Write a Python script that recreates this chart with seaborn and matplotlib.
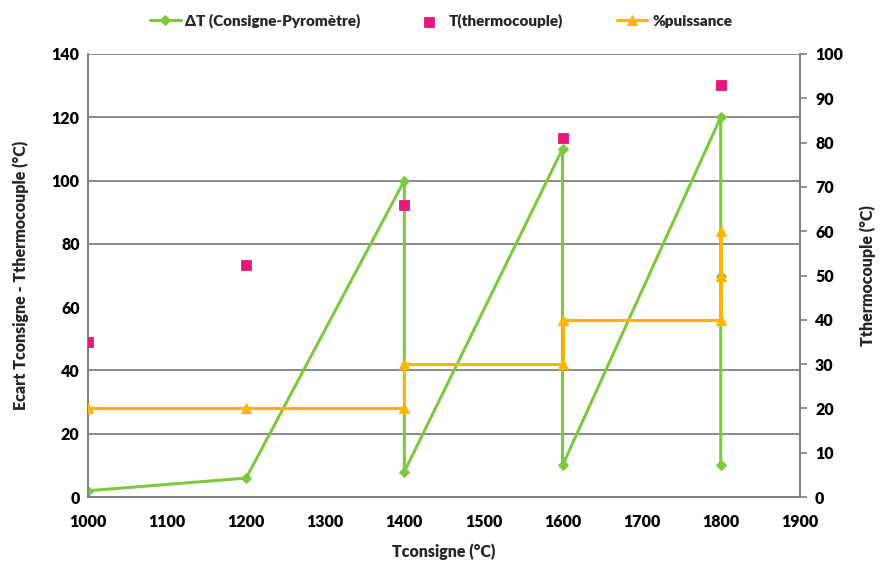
import matplotlib
matplotlib.use('Agg')
import matplotlib.pyplot as plt
import seaborn as sns
import pandas as pd

# data
dt_x = [1000, 1200, 1400, 1400, 1600, 1600, 1800, 1800, 1800]
dt_y = [2, 6, 100, 8, 110, 10, 120, 70, 10]

tc_x = [1000, 1200, 1400, 1600, 1800]
tc_y = [35, 52.4, 66, 81, 93]

pw_x = [1000, 1200, 1400, 1400, 1600, 1600, 1800, 1800, 1800]
pw_y = [20, 20, 20, 30, 30, 40, 40, 50, 60]

green = '#7CC93E'
pink = '#E8177B'
orange = '#FFB400'
grey = '#808080'

sns.set_style('white')
plt.rcParams['font.family'] = ['Lato', 'DejaVu Sans']
plt.rcParams['font.weight'] = 'bold'

df_dt = pd.DataFrame({'x': dt_x, 'y': dt_y})
df_tc = pd.DataFrame({'x': tc_x, 'y': tc_y})
df_pw = pd.DataFrame({'x': pw_x, 'y': pw_y})

fig = plt.figure(figsize=(8.82, 5.74), dpi=100)
ax = fig.add_axes([0.0998, 0.134, 0.807, 0.772])
ax2 = ax.twinx()

sns.lineplot(data=df_dt, x='x', y='y', ax=ax, sort=False, estimator=None,
             color=green, lw=2.2, marker='D', markersize=5, markeredgecolor=green,
             label='ΔT (Consigne-Pyromètre)', legend=False, zorder=3)
sns.scatterplot(data=df_tc, x='x', y='y', ax=ax2, color=pink, marker='s', s=55,
                edgecolor=pink, label='T(thermocouple)', legend=False, zorder=4)
sns.lineplot(data=df_pw, x='x', y='y', ax=ax2, sort=False, estimator=None,
             color=orange, lw=2.2, marker='^', markersize=7, markeredgecolor=orange,
             label='%puissance', legend=False, zorder=3)

ax.set_xlim(1000, 1900)
ax.set_ylim(0, 140)
ax2.set_ylim(0, 100)
ax.set_xticks(range(1000, 2000, 100))
ax.set_yticks(range(0, 160, 20))
ax2.set_yticks(range(0, 110, 10))

ax.grid(axis='y', color=grey, lw=1.3)
ax.get_ygridlines()[3].set_visible(False)
ax.set_axisbelow(True)

for a in (ax, ax2):
    a.spines['top'].set_visible(False)
    for s in ('left', 'right', 'bottom'):
        a.spines[s].set_color(grey)
        a.spines[s].set_linewidth(1.3)
    a.tick_params(colors=grey, labelcolor='black', labelsize=11.5, length=5, width=1.2)
    for lab in a.get_xticklabels() + a.get_yticklabels():
        lab.set_fontweight('heavy')
ax.tick_params(axis='x', length=0, pad=12)
ax.tick_params(axis='y', length=0, pad=6)
ax2.tick_params(axis='y', direction='out', length=5, pad=6)

ax.set_xlabel('Tconsigne (°C)', fontsize=11.5, fontweight='heavy', labelpad=10)
ax.set_ylabel('Ecart Tconsigne - Tthermocouple (°C)', fontsize=11.5, fontweight='heavy', labelpad=16)
ax2.set_ylabel('Tthermocouple (°C)', fontsize=11.5, fontweight='heavy', labelpad=12)

h1, l1 = ax.get_legend_handles_labels()
h2, l2 = ax2.get_legend_handles_labels()
fig.legend(h1 + h2, l1 + l2, loc='upper center', bbox_to_anchor=(0.5, 1.0), ncol=3,
           frameon=False, handlelength=2, columnspacing=3.5, handletextpad=0.3,
           prop={'weight': 'heavy', 'size': 11})

fig.savefig('out.png', dpi=100)
